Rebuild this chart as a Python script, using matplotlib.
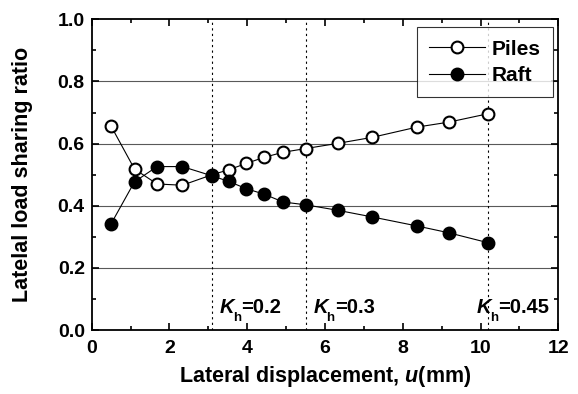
import matplotlib
matplotlib.use('Agg')
import matplotlib.pyplot as plt
from matplotlib.ticker import MultipleLocator, FormatStrFormatter

plt.rcParams['font.family'] = ['Liberation Sans', 'DejaVu Sans']
plt.rcParams['font.weight'] = 'bold'
plt.rcParams['axes.labelweight'] = 'bold'
plt.rcParams['mathtext.fontset'] = 'custom'
plt.rcParams['mathtext.rm'] = 'Liberation Sans:bold'
plt.rcParams['mathtext.it'] = 'Liberation Sans:italic:bold'

# displacement u (mm)
u = [0.49, 1.1, 1.68, 2.33, 3.1, 3.53, 3.97, 4.44, 4.92, 5.5, 6.34, 7.21, 8.36, 9.18, 10.19]
piles = [0.658, 0.518, 0.470, 0.466, 0.500, 0.516, 0.536, 0.556, 0.572, 0.584, 0.601, 0.620, 0.653, 0.669, 0.696]
raft = [0.340, 0.477, 0.526, 0.526, 0.496, 0.478, 0.455, 0.437, 0.412, 0.403, 0.385, 0.364, 0.335, 0.313, 0.281]

# seismic coefficient markers
kh_u = [3.1, 5.5, 10.2]
kh_labels = ['=0.2', '=0.3', '=0.45']
kh_text_x = [3.3, 5.7, 9.9]
kh_text_y = 0.055

fig = plt.figure(figsize=(5.78, 3.94), dpi=100)
ax = fig.add_axes([0.1587, 0.1624, 0.8073, 0.7886])

for y in [0.2, 0.4, 0.6, 0.8]:
    ax.axhline(y, color='0.35', lw=0.8, zorder=1)
for x in kh_u:
    ax.axvline(x, color='k', lw=0.8, ls=(0, (2, 3)), zorder=1)

ax.plot(u, piles, '-o', color='k', lw=0.8, ms=8.5, mfc='white', mec='k', mew=1.5,
        label='Piles', zorder=3)
ax.plot(u, raft, '-o', color='k', lw=0.8, ms=8.5, mfc='k', mec='k', mew=1.5,
        label='Raft', zorder=4)

# K_h labels: italic K, small dropped h, then the value
for tx, lab in zip(kh_text_x, kh_labels):
    ax.annotate('K', (tx, kh_text_y), fontsize=14.5, fontstyle='italic',
                ha='left', va='baseline')
    ax.annotate('h', (tx, kh_text_y), xytext=(9.5, -5.8), textcoords='offset points',
                fontsize=9.5, ha='left', va='baseline')
    ax.annotate(lab, (tx, kh_text_y), xytext=(15.5, 0), textcoords='offset points',
                fontsize=14.5, ha='left', va='baseline')

ax.set_xlim(0, 12)
ax.set_ylim(0, 1.0)
ax.xaxis.set_major_locator(MultipleLocator(2))
ax.xaxis.set_minor_locator(MultipleLocator(1))
ax.yaxis.set_major_locator(MultipleLocator(0.2))
ax.yaxis.set_minor_locator(MultipleLocator(0.1))
ax.yaxis.set_major_formatter(FormatStrFormatter('%.1f'))
ax.tick_params(which='both', direction='in', top=True, right=True, labelsize=14, width=1.2)
ax.tick_params(which='major', length=5)
ax.tick_params(which='minor', length=3)
ax.tick_params(axis='x', pad=7)
ax.tick_params(axis='y', pad=5)
for s in ax.spines.values():
    s.set_linewidth(1.3)

ax.set_xlabel(r'Lateral displacement, $u$(mm)', fontsize=15.5)
ax.set_ylabel('Latelal load sharing ratio', fontsize=15.5)
ax.xaxis.set_label_coords(0.5, -0.109)
ax.yaxis.set_label_coords(-0.126, 0.5)

leg = ax.legend(loc='upper right', bbox_to_anchor=(0.9886, 0.975), fontsize=15,
                frameon=True, fancybox=False, edgecolor='k', handlelength=2.7,
                borderaxespad=0, borderpad=0.6, handletextpad=0.3, labelspacing=0.35)
leg.get_frame().set_linewidth(0.8)

fig.savefig('out.png', dpi=100)
